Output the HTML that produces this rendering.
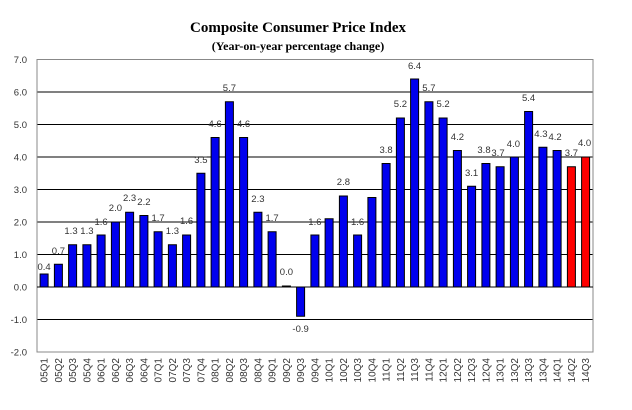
<!DOCTYPE html>
<html><head><meta charset="utf-8"><style>
html,body{margin:0;padding:0;background:#fff;}
svg{display:block;}
.t{font-family:"Liberation Sans",Arial,sans-serif;font-size:9.5px;fill:#333;}
.l{font-family:"Liberation Sans",Arial,sans-serif;font-size:9.5px;fill:#333;text-anchor:middle;}
.x{font-family:"Liberation Sans",Arial,sans-serif;font-size:10px;fill:#333;text-anchor:end;}
</style></head><body>
<svg width="632" height="410" viewBox="0 0 632 410" xmlns="http://www.w3.org/2000/svg">
<rect width="632" height="410" fill="#fff"/>
<text x="298" y="32" text-anchor="middle" font-family="Liberation Serif,serif" font-weight="bold" font-size="15">Composite Consumer Price Index</text>
<text x="298" y="50" text-anchor="middle" font-family="Liberation Serif,serif" font-weight="bold" font-size="12">(Year-on-year percentage change)</text>
<g stroke="#000" stroke-width="1">
<line x1="37" y1="92" x2="593" y2="92"/><line x1="37" y1="124.5" x2="593" y2="124.5"/>
<line x1="37" y1="157" x2="593" y2="157"/><line x1="37" y1="189.5" x2="593" y2="189.5"/>
<line x1="37" y1="222" x2="593" y2="222"/><line x1="37" y1="254.5" x2="593" y2="254.5"/>
<line x1="37" y1="319.5" x2="593" y2="319.5"/>
</g>
<rect x="37" y="59.5" width="556" height="292.5" fill="none" stroke="#888"/>
<g class="t" text-anchor="end">
<text x="27" y="63">7.0</text><text x="27" y="95.5">6.0</text><text x="27" y="128">5.0</text>
<text x="27" y="160.5">4.0</text><text x="27" y="193">3.0</text><text x="27" y="225.5">2.0</text>
<text x="27" y="258">1.0</text><text x="27" y="290.5">0.0</text><text x="27" y="323">-1.0</text><text x="27" y="355.5">-2.0</text>
</g>
<g fill="#0000ee" stroke="#000" stroke-width="1">
<rect x="40.1" y="274" width="8" height="13"/>
<rect x="54.4" y="264.25" width="8" height="22.75"/>
<rect x="68.6" y="244.75" width="8" height="42.25"/>
<rect x="82.9" y="244.75" width="8" height="42.25"/>
<rect x="97.1" y="235" width="8" height="52"/>
<rect x="111.4" y="222" width="8" height="65"/>
<rect x="125.6" y="212.25" width="8" height="74.75"/>
<rect x="139.9" y="215.5" width="8" height="71.5"/>
<rect x="154.1" y="231.75" width="8" height="55.25"/>
<rect x="168.4" y="244.75" width="8" height="42.25"/>
<rect x="182.6" y="235" width="8" height="52"/>
<rect x="196.9" y="173.25" width="8" height="113.75"/>
<rect x="211.1" y="137.5" width="8" height="149.5"/>
<rect x="225.4" y="101.75" width="8" height="185.25"/>
<rect x="239.6" y="137.5" width="8" height="149.5"/>
<rect x="253.9" y="212.25" width="8" height="74.75"/>
<rect x="268.1" y="231.75" width="8" height="55.25"/>
<rect x="282.4" y="286" width="8" height="1"/>
<rect x="296.6" y="287" width="8" height="29.25"/>
<rect x="310.9" y="235" width="8" height="52"/>
<rect x="325.1" y="218.75" width="8" height="68.25"/>
<rect x="339.4" y="196" width="8" height="91"/>
<rect x="353.6" y="235" width="8" height="52"/>
<rect x="367.9" y="197.5" width="8" height="89.5"/>
<rect x="382.1" y="163.5" width="8" height="123.5"/>
<rect x="396.4" y="118" width="8" height="169"/>
<rect x="410.6" y="79" width="8" height="208"/>
<rect x="424.9" y="101.75" width="8" height="185.25"/>
<rect x="439.1" y="118" width="8" height="169"/>
<rect x="453.4" y="150.5" width="8" height="136.5"/>
<rect x="467.6" y="186.25" width="8" height="100.75"/>
<rect x="481.9" y="163.5" width="8" height="123.5"/>
<rect x="496.1" y="166.75" width="8" height="120.25"/>
<rect x="510.4" y="157" width="8" height="130"/>
<rect x="524.6" y="111.5" width="8" height="175.5"/>
<rect x="538.9" y="147.25" width="8" height="139.75"/>
<rect x="553.1" y="150.5" width="8" height="136.5"/>
<rect x="567.4" y="166.75" width="8" height="120.25" fill="#ff0000"/>
<rect x="581.6" y="157" width="8" height="130" fill="#ff0000"/>
</g>
<line x1="37" y1="287" x2="593" y2="287" stroke="#000"/>
<g class="l">
<text x="44.1" y="270">0.4</text><text x="58.4" y="254">0.7</text><text x="71" y="234">1.3</text><text x="86.9" y="234">1.3</text>
<text x="101.1" y="225">1.6</text><text x="115.4" y="211">2.0</text><text x="129.6" y="201">2.3</text><text x="143.9" y="205">2.2</text>
<text x="158.1" y="221">1.7</text><text x="172.4" y="234">1.3</text><text x="186.6" y="224">1.6</text><text x="200.9" y="163">3.5</text>
<text x="215.1" y="127">4.6</text><text x="229.4" y="91">5.7</text><text x="243.6" y="127">4.6</text><text x="257.9" y="202">2.3</text>
<text x="272.1" y="221">1.7</text><text x="286.4" y="275">0.0</text><text x="300.6" y="332">-0.9</text><text x="314.9" y="225">1.6</text>
<text x="343.4" y="185">2.8</text><text x="357.6" y="225">1.6</text>
<text x="386.1" y="153">3.8</text><text x="400.4" y="107">5.2</text><text x="414.6" y="69">6.4</text><text x="428.9" y="91">5.7</text>
<text x="443.1" y="107">5.2</text><text x="457.4" y="140">4.2</text><text x="471.6" y="176">3.1</text><text x="484" y="153">3.8</text>
<text x="498" y="156">3.7</text><text x="513.4" y="147">4.0</text><text x="528.6" y="101">5.4</text><text x="540.9" y="137">4.3</text>
<text x="555.1" y="140">4.2</text><text x="571.4" y="156">3.7</text><text x="584.6" y="146">4.0</text>
</g>
<g class="x">
<text transform="translate(47.6,358) rotate(-90)">05Q1</text>
<text transform="translate(61.9,358) rotate(-90)">05Q2</text>
<text transform="translate(76.1,358) rotate(-90)">05Q3</text>
<text transform="translate(90.4,358) rotate(-90)">05Q4</text>
<text transform="translate(104.6,358) rotate(-90)">06Q1</text>
<text transform="translate(118.9,358) rotate(-90)">06Q2</text>
<text transform="translate(133.1,358) rotate(-90)">06Q3</text>
<text transform="translate(147.4,358) rotate(-90)">06Q4</text>
<text transform="translate(161.6,358) rotate(-90)">07Q1</text>
<text transform="translate(175.9,358) rotate(-90)">07Q2</text>
<text transform="translate(190.1,358) rotate(-90)">07Q3</text>
<text transform="translate(204.4,358) rotate(-90)">07Q4</text>
<text transform="translate(218.6,358) rotate(-90)">08Q1</text>
<text transform="translate(232.9,358) rotate(-90)">08Q2</text>
<text transform="translate(247.1,358) rotate(-90)">08Q3</text>
<text transform="translate(261.4,358) rotate(-90)">08Q4</text>
<text transform="translate(275.6,358) rotate(-90)">09Q1</text>
<text transform="translate(289.9,358) rotate(-90)">09Q2</text>
<text transform="translate(304.1,358) rotate(-90)">09Q3</text>
<text transform="translate(318.4,358) rotate(-90)">09Q4</text>
<text transform="translate(332.6,358) rotate(-90)">10Q1</text>
<text transform="translate(346.9,358) rotate(-90)">10Q2</text>
<text transform="translate(361.1,358) rotate(-90)">10Q3</text>
<text transform="translate(375.4,358) rotate(-90)">10Q4</text>
<text transform="translate(389.6,358) rotate(-90)">11Q1</text>
<text transform="translate(403.9,358) rotate(-90)">11Q2</text>
<text transform="translate(418.1,358) rotate(-90)">11Q3</text>
<text transform="translate(432.4,358) rotate(-90)">11Q4</text>
<text transform="translate(446.6,358) rotate(-90)">12Q1</text>
<text transform="translate(460.9,358) rotate(-90)">12Q2</text>
<text transform="translate(475.1,358) rotate(-90)">12Q3</text>
<text transform="translate(489.4,358) rotate(-90)">12Q4</text>
<text transform="translate(503.6,358) rotate(-90)">13Q1</text>
<text transform="translate(517.9,358) rotate(-90)">13Q2</text>
<text transform="translate(532.1,358) rotate(-90)">13Q3</text>
<text transform="translate(546.4,358) rotate(-90)">13Q4</text>
<text transform="translate(560.6,358) rotate(-90)">14Q1</text>
<text transform="translate(574.9,358) rotate(-90)">14Q2</text>
<text transform="translate(589.1,358) rotate(-90)">14Q3</text>
</g>
</svg>
</body></html>
